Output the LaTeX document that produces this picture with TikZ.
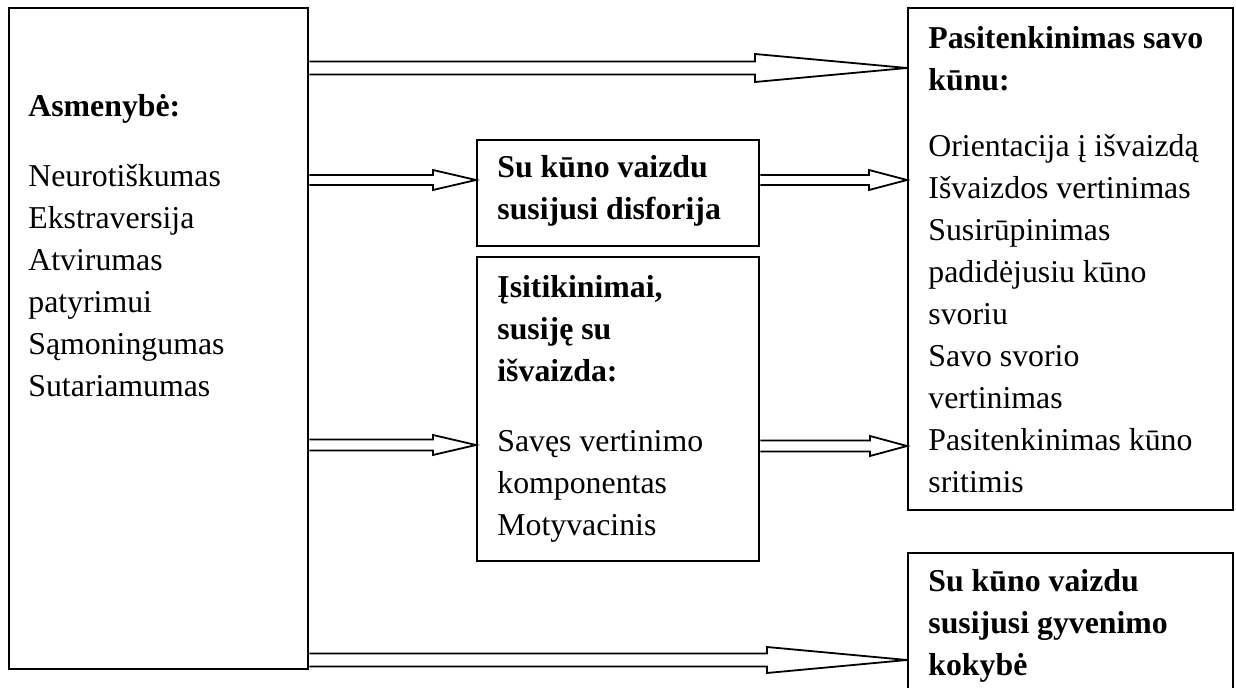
\documentclass[tikz,border=0pt]{standalone}
\usepackage{fontspec}
\setmainfont{Liberation Serif}
\usetikzlibrary{calc}
\tikzset{
  box/.style={draw, line width=1.2pt, inner sep=0pt, anchor=north west},
  txt/.style={anchor=base west, inner sep=0pt, font=\fontsize{15.9}{21}\selectfont},
  barrow/.style={draw, line width=0.9pt, line join=miter, fill=white}
}
% #1 start, #2 tip, #3 half shaft, #4 half head, #5 head length (px)
\newcommand\blockarr[5]{%
  \path[barrow] ($(#1)+(0,-#3)$) -- ($(#2)+(-#5,-#3)$) -- ($(#2)+(-#5,-#4)$) -- (#2)
     -- ($(#2)+(-#5,#4)$) -- ($(#2)+(-#5,#3)$) -- ($(#1)+(0,#3)$);}
\begin{document}
\begin{tikzpicture}[x=0.5pt, y=-0.5pt]
\useasboundingbox (0,0) rectangle (1236,688);
% boxes
\node[box, minimum width=149.5pt, minimum height=330.5pt] (L) at (8,7) {};
\node[box, minimum width=162.5pt, minimum height=251pt] (R1) at (907,7) {};
\node[box, minimum width=141pt, minimum height=53pt] (M1) at (476,139) {};
\node[box, minimum width=141pt, minimum height=152pt] (M2) at (476,256) {};
\node[box, minimum width=162.5pt, minimum height=90pt] (R2) at (907,552) {};
% texts
\node[txt] (Lt) at (28,117) {\parbox[t]{140pt}{\textbf{Asmenybė:}\\[14pt]Neurotiškumas\\Ekstraversija\\Atvirumas\\patyrimui\\Sąmoningumas\\Sutariamumas}};
\node[txt] (R1t) at (928,49) {\parbox[t]{150pt}{\textbf{Pasitenkinimas savo}\\\textbf{kūnu:}\\[12pt]Orientacija į išvaizdą\\Išvaizdos vertinimas\\Susirūpinimas\\padidėjusiu kūno\\svoriu\\Savo svorio\\vertinimas\\Pasitenkinimas kūno\\sritimis}};
\node[txt] (M1t) at (497,178) {\parbox[t]{130pt}{\textbf{Su kūno vaizdu}\\\textbf{susijusi disforija}}};
\node[txt] (M2t) at (497,298) {\parbox[t]{130pt}{\textbf{Įsitikinimai,}\\\textbf{susiję su}\\\textbf{išvaizda:}\\[14pt]Savęs vertinimo\\komponentas\\Motyvacinis}};
\node[txt] (R2t) at (928,592) {\parbox[t]{150pt}{\textbf{Su kūno vaizdu}\\\textbf{susijusi gyvenimo}\\\textbf{kokybė}}};
% arrow end points
\coordinate (a1s) at (L.east |- 0,68);   \coordinate (a1e) at (R1.west |- 0,68);
\coordinate (a2s) at (L.east |- 0,180);  \coordinate (a2e) at (M1.west |- 0,180);
\coordinate (a3s) at (M1.east |- 0,180); \coordinate (a3e) at (R1.west |- 0,180);
\coordinate (a4s) at (L.east |- 0,445);  \coordinate (a4e) at (M2.west |- 0,445);
\coordinate (a5s) at (M2.east |- 0,446); \coordinate (a5e) at (R1.west |- 0,446);
\coordinate (a6s) at (L.east |- 0,660);  \coordinate (a6e) at (R2.west |- 0,660);
% arrows
\blockarr{a1s}{a1e}{6.5}{14}{152}
\blockarr{a2s}{a2e}{5}{10}{43}
\blockarr{a3s}{a3e}{5}{10}{38}
\blockarr{a4s}{a4e}{5.5}{10}{43}
\blockarr{a5s}{a5e}{5.5}{10}{37}
\blockarr{a6s}{a6e}{6.5}{13}{140}
\end{tikzpicture}
\end{document}
